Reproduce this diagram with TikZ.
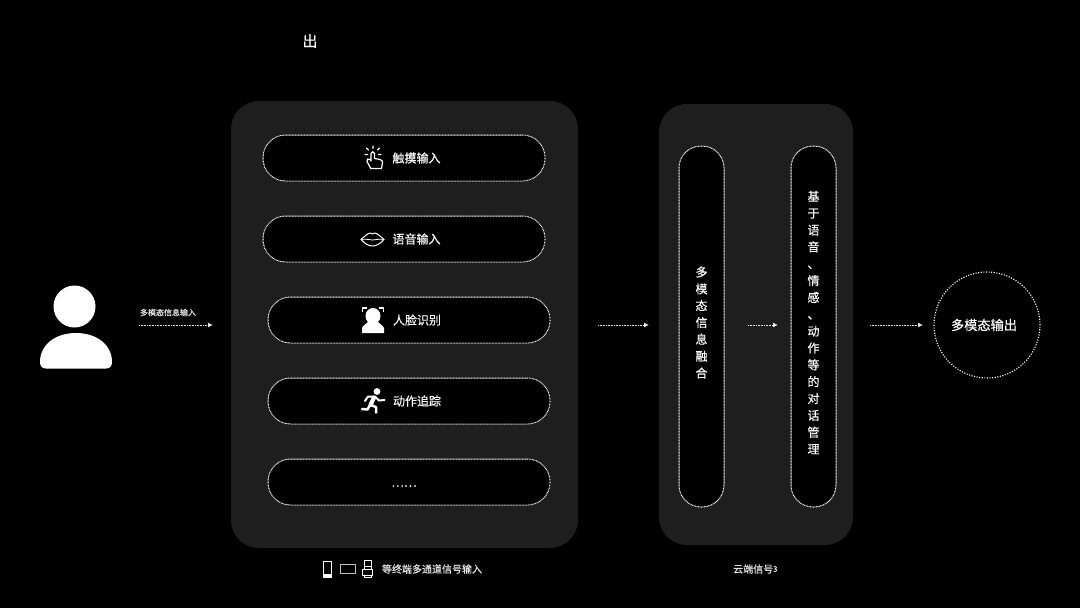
\documentclass[tikz,border=0pt]{standalone}
\usepackage{fontspec}
\setmainfont[FakeBold=0.35]{Noto Sans CJK SC}
\usetikzlibrary{arrows.meta}
\definecolor{panelgray}{HTML}{1E1E1E}
\tikzset{
  panelbox/.style={fill=panelgray,draw=none,rounded corners=28pt,inner sep=0pt},
  pillbox/.style={fill=black,draw=white,line width=1pt,dash pattern=on .8pt off .7pt,
     rounded corners=22.5pt,inner sep=0pt,minimum width=282pt,minimum height=46pt},
  vpill/.style={fill=black,draw=white,line width=1pt,dash pattern=on .8pt off .7pt,
     rounded corners=22pt,inner sep=0pt,minimum width=45pt,minimum height=361pt},
  outcircle/.style={circle,fill=black,draw=white,line width=1.1pt,dash pattern=on 1.1pt off 1.5pt,
     inner sep=0pt,minimum size=106pt},
  lab/.style={text=white,inner sep=0pt,font=\fontsize{12}{14}\selectfont},
  smalllab/.style={text=white!90!black,inner sep=0pt,font=\fontsize{10}{12}\selectfont},
  vlab/.style={text=white,inner sep=0pt,align=center,font=\fontsize{12}{16.85}\selectfont},
  flow/.style={draw=white!90!black,line width=.9pt,dash pattern=on .8pt off .8pt,
     -{Latex[length=5pt,width=5pt,fill=white,sep=0pt]}},
  icon/.style={draw=white,line width=1.2pt,line cap=round,line join=round},
}
\begin{document}
\begin{tikzpicture}[x=1pt,y=-1pt]
\useasboundingbox[fill=black] (0,0) rectangle (1080,608);
% panels
\node[panelbox,minimum width=347pt,minimum height=447pt] (p1) at (404.5,324.5) {};
\node[panelbox,minimum width=194pt,minimum height=441pt] (p2) at (756,324.5) {};
% title remnant
\node[text=white,inner sep=0pt,font=\fontsize{15}{18}\selectfont] (ttl) at (310,41) {出};
% pills
\node[pillbox] (a1) at (404,158) {};
\node[pillbox] (a2) at (404,239) {};
\node[pillbox] (a3) at (409,320) {};
\node[pillbox] (a4) at (409,401) {};
\node[pillbox] (a5) at (409,482) {};
\node[lab] (t1) at (416.5,158) {触摸输入};
\node[lab] (t2) at (416.5,239) {语音输入};
\node[lab] (t3) at (417,320) {人脸识别};
\node[lab] (t4) at (417,401) {动作追踪};
\node[lab] (t5) at (404,486) {……};
% vertical pills
\node[vpill] (b1) at (701.5,326.5) {};
\node[vpill] (b2) at (813.5,326.5) {};
\node[vlab] (bt1) at (701.5,322.5) {多\\模\\态\\信\\息\\融\\合};
\node[vlab] (bt2) at (813.5,322.5) {基\\于\\语\\音\\、\\情\\感\\、\\动\\作\\等\\的\\对\\话\\管\\理};
% output
\node[outcircle] (c) at (987,325) {};
\node[text=white,inner sep=0pt,font=\fontsize{13.2}{15}\selectfont] (ct) at (984,325) {多模态输出};
% captions
\node[smalllab] (cap1) at (432,569) {等终端多通道信号输入};
\node[smalllab,anchor=west] (cap2) at (733,569) {云端信号};
\node[smalllab,anchor=west,font=\fontsize{8}{10}\selectfont] (cap3) at (773,569) {3};
\node[text=white!90!black,inner sep=0pt,font=\fontsize{8}{10}\selectfont] (alab) at (168,312.5) {多模态信息输入};
% person
\fill[white] (74.5,306.5) circle (21);
\fill[white] (40,362) .. controls (40,345) and (55,333) .. (76,333) .. controls (97,333) and (112,345) .. (112,362)
  .. controls (112,366) and (110,368.5) .. (106,368.5) -- (46,368.5) .. controls (42,368.5) and (40,366) .. (40,362) -- cycle;
% flows
\coordinate (f1a) at (139,325); \coordinate (f1b) at (213,325);
\coordinate (f2a) at (598,325); \coordinate (f2b) at (649,325);
\coordinate (f3a) at (748,325); \coordinate (f3b) at (778,325);
\coordinate (f4a) at (870,325); \coordinate (f4b) at (923,325);
\draw[flow] (f1a) -- (f1b);
\draw[flow] (f2a) -- (f2b);
\draw[flow] (f3a) -- (f3b);
\draw[flow] (f4a) -- (f4b);
% touch icon
\draw[icon] (370.5,168) -- (367,161.5) .. controls (366,159) and (368.5,158) .. (370,159.5) -- (371,161)
  -- (371,153.5) .. controls (371,151) and (374.5,151) .. (374.5,153.5) -- (374.5,158.5) -- (380,159.5)
  .. controls (382,160) and (382.5,161) .. (382.5,162.5) -- (381.5,168.5) -- (370.5,168.5);
\draw[icon] (373,146) -- (373,148.5) (366.5,148) -- (368.5,150) (379.5,148) -- (377.5,150)
  (365,154.5) -- (367.5,154.5) (381,154.5) -- (378.5,154.5);
% lips icon
\draw[icon,line width=1pt] (361,239.5) .. controls (365,236) and (368,233) .. (370.5,233) .. controls (371.5,233) and (372,234) .. (372.5,234)
  .. controls (373,234) and (373.5,233) .. (374.5,233) .. controls (377,233) and (380,236) .. (384,239.5)
  .. controls (380,243.5) and (377,246) .. (372.5,246) .. controls (368,246) and (365,243.5) .. (361,239.5) -- cycle;
\draw[icon,line width=.8pt] (361,239.5) .. controls (366,238.5) and (369,240) .. (372.5,240) .. controls (376,240) and (379,238.5) .. (384,239.5);
% face icon
\draw[icon,line width=1.2pt,line cap=butt] (362.5,312) -- (362.5,308) -- (367,308) (379,308) -- (383.5,308) -- (383.5,312);
\fill[white] (373,316) ellipse (7.5 and 8);
\fill[white] (362,333) -- (362,328) .. controls (363,325) and (367,324) .. (369,321) -- (377,321)
  .. controls (379,324) and (383,325) .. (384,328) -- (384,333) -- cycle;
% runner icon
\fill[white] (377,391.5) circle (3.4);
\draw[icon,line width=4.2pt] (374,397.5) -- (370.5,405);
\draw[icon,line width=2pt] (375,396.5) -- (379,400.5) -- (384.5,400);
\draw[icon,line width=2pt] (374,396.5) -- (368,396.5) -- (365,401);
\draw[icon,line width=2.5pt] (370.5,405) -- (376,407) -- (376,412.5);
\draw[icon,line width=2.5pt] (370,405) -- (367.5,409.5) -- (362,409);
% device icons
\draw[icon,line width=1pt] (323.5,561.5) rectangle (331.5,577);
\fill[white] (323.5,574) rectangle (331.5,577);
\draw[icon,line width=.7pt,draw=white!75!black] (340.5,564.5) rectangle (355,573.5);
\draw[icon,line width=.8pt] (364,560.5) rectangle (371,566);
\draw[icon,line width=.8pt] (362.5,569) rectangle (372.5,575);
\draw[icon,line width=.8pt] (364,566) -- (364,569) (371,566) -- (371,569) (364,575) -- (364,577.5) -- (371,577.5) -- (371,575);
\end{tikzpicture}
\end{document}
